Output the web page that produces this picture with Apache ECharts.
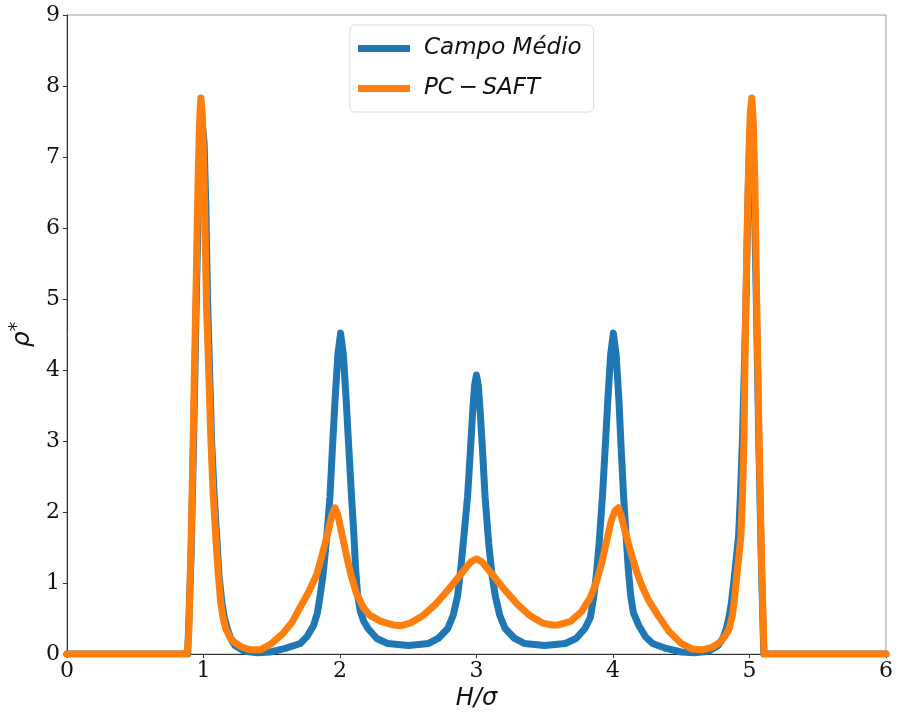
<!DOCTYPE html>
<html>
<head>
<meta charset="utf-8">
<script src="https://cdn.jsdelivr.net/npm/echarts@6/dist/echarts.min.js"></script>
<style>
  html, body { margin: 0; padding: 0; background: #fff; }
  #chart { width: 899px; height: 716px; }
</style>
</head>
<body>
<div id="chart"></div>
<script>
// Density profile rho* across the pore width H/sigma
const campoX = [0, 0.5, 0.885, 0.91, 0.928, 0.948, 0.965, 0.98, 0.993, 1.005, 1.018, 1.03, 1.045, 1.06, 1.08, 1.097, 1.115, 1.135, 1.155, 1.175, 1.2, 1.23, 1.3, 1.4, 1.49, 1.6, 1.709, 1.76, 1.806, 1.835, 1.855, 1.875, 1.89, 1.91, 1.927, 1.945, 1.965, 1.985, 2.005, 2.025, 2.045, 2.065, 2.085, 2.1, 2.115, 2.13, 2.15, 2.175, 2.206, 2.27, 2.35, 2.5, 2.65, 2.72, 2.79, 2.83, 2.862, 2.885, 2.91, 2.935, 2.955, 2.972, 2.986, 3.0, 3.014, 3.028, 3.045, 3.063, 3.09, 3.115, 3.138, 3.17, 3.21, 3.28, 3.35, 3.5, 3.65, 3.73, 3.795, 3.835, 3.86, 3.88, 3.9, 3.923, 3.943, 3.963, 3.983, 4.003, 4.023, 4.043, 4.06, 4.078, 4.095, 4.112, 4.13, 4.15, 4.19, 4.24, 4.29, 4.39, 4.5, 4.6, 4.7, 4.77, 4.805, 4.83, 4.85, 4.868, 4.89, 4.92, 4.935, 4.948, 4.962, 4.975, 4.988, 5.0, 5.008, 5.02, 5.035, 5.05, 5.068, 5.088, 5.105, 5.5, 6];
const campoY = [0, 0, 0, 1.4, 3.0, 5.0, 6.5, 7.25, 7.45, 7.2, 6.3, 5.0, 4.0, 3.0, 2.2, 1.66, 1.1, 0.73, 0.5, 0.36, 0.22, 0.12, 0.04, 0.02, 0.03, 0.08, 0.15, 0.25, 0.4, 0.58, 0.82, 1.1, 1.38, 1.8, 2.22, 2.9, 3.6, 4.22, 4.52, 4.22, 3.6, 2.9, 2.22, 1.75, 1.2, 0.82, 0.6, 0.46, 0.36, 0.22, 0.15, 0.12, 0.15, 0.22, 0.36, 0.55, 0.82, 1.2, 1.7, 2.22, 2.85, 3.4, 3.78, 3.93, 3.78, 3.4, 2.85, 2.22, 1.55, 1.1, 0.82, 0.55, 0.36, 0.22, 0.15, 0.12, 0.15, 0.22, 0.36, 0.52, 0.82, 1.15, 1.6, 2.22, 2.9, 3.6, 4.22, 4.52, 4.22, 3.6, 2.9, 2.22, 1.7, 1.2, 0.82, 0.58, 0.4, 0.24, 0.15, 0.08, 0.03, 0.02, 0.04, 0.12, 0.22, 0.36, 0.52, 0.73, 1.1, 1.66, 2.3, 3.0, 4.0, 5.0, 6.3, 7.2, 7.45, 7.25, 6.5, 5.0, 3.0, 1.2, 0, 0, 0];

const saftX = [0, 0.5, 0.88, 0.893, 0.91, 0.925, 0.944, 0.96, 0.972, 0.981, 0.992, 1.005, 1.022, 1.04, 1.054, 1.07, 1.09, 1.108, 1.126, 1.145, 1.163, 1.19, 1.223, 1.28, 1.345, 1.418, 1.5, 1.587, 1.65, 1.709, 1.77, 1.83, 1.867, 1.91, 1.94, 1.964, 1.985, 2.02, 2.05, 2.08, 2.12, 2.17, 2.22, 2.3, 2.39, 2.45, 2.52, 2.61, 2.7, 2.8, 2.9, 2.96, 3.0, 3.04, 3.1, 3.2, 3.3, 3.39, 3.48, 3.55, 3.6, 3.69, 3.77, 3.83, 3.88, 3.92, 3.955, 3.985, 4.015, 4.04, 4.06, 4.09, 4.133, 4.17, 4.21, 4.26, 4.33, 4.41, 4.5, 4.58, 4.65, 4.72, 4.78, 4.82, 4.852, 4.875, 4.888, 4.91, 4.937, 4.95, 4.96, 4.973, 4.99, 5.005, 5.017, 5.028, 5.04, 5.053, 5.07, 5.09, 5.107, 5.5, 6];
const saftY = [0, 0, 0, 0.3, 1.6, 3.06, 4.95, 6.6, 7.5, 7.83, 7.6, 6.7, 4.95, 3.9, 3.06, 2.3, 1.66, 1.15, 0.73, 0.5, 0.36, 0.25, 0.17, 0.1, 0.06, 0.06, 0.15, 0.3, 0.45, 0.66, 0.87, 1.12, 1.38, 1.7, 1.95, 2.06, 1.96, 1.64, 1.37, 1.12, 0.86, 0.66, 0.545, 0.46, 0.41, 0.4, 0.44, 0.545, 0.7, 0.92, 1.16, 1.3, 1.34, 1.3, 1.16, 0.92, 0.7, 0.545, 0.44, 0.41, 0.41, 0.46, 0.6, 0.78, 1.02, 1.3, 1.6, 1.86, 2.02, 2.06, 1.95, 1.72, 1.42, 1.18, 0.97, 0.76, 0.545, 0.32, 0.15, 0.07, 0.06, 0.09, 0.16, 0.25, 0.36, 0.55, 0.73, 1.15, 1.66, 2.3, 3.06, 4.95, 6.6, 7.6, 7.83, 7.5, 6.6, 4.95, 3.06, 1.2, 0, 0, 0];

const xTicks = [0, 1, 2, 3, 4, 5, 6];
const yTicks = [0, 1, 2, 3, 4, 5, 6, 7, 8, 9];

const seriesNames = ['Campo Médio', 'PC\u2009\u2212\u2009SAFT'];
const seriesColors = ['#1f77b4', '#ff7f0e'];

function pairs(xs, ys) {
  return xs.map((x, i) => [x, ys[i]]);
}

const chart = echarts.init(document.getElementById('chart'), null, { renderer: 'canvas' });

const tickFont = { fontFamily: 'DejaVu Serif', fontSize: 22, color: '#111' };

chart.setOption({
  animation: false,
  backgroundColor: '#fff',
  grid: {
    left: 62, right: 13, top: 15, bottom: 57,
    show: true, borderColor: '#9a9a9a', borderWidth: 1, backgroundColor: 'transparent'
  },
  legend: {
    left: 350, top: 25,
    orient: 'vertical',
    itemWidth: 52, itemHeight: 7, itemGap: 17,
    icon: 'rect',
    padding: [12, 12, 12, 8],
    backgroundColor: '#fff',
    borderColor: '#dcdcdc', borderWidth: 1, borderRadius: 5,
    textStyle: { fontFamily: 'DejaVu Sans', fontStyle: 'italic', fontSize: 23, color: '#111', padding: [0, 0, 0, 9] },
    data: seriesNames
  },
  xAxis: {
    type: 'value', min: xTicks[0], max: xTicks[xTicks.length - 1], interval: 1,
    name: 'H/σ', nameLocation: 'middle', nameGap: 29,
    nameTextStyle: { fontFamily: 'DejaVu Sans', fontStyle: 'italic', fontSize: 24, color: '#111' },
    axisLine: { show: true, lineStyle: { color: '#333', width: 1 } },
    axisTick: { show: true, length: 4, lineStyle: { color: '#333' } },
    axisLabel: Object.assign({ margin: 6 }, tickFont),
    splitLine: { show: false }
  },
  yAxis: {
    type: 'value', min: yTicks[0], max: yTicks[yTicks.length - 1], interval: 1,
    name: '{b|ρ}{s|*}', nameLocation: 'middle', nameGap: 24, nameRotate: 90,
    nameTextStyle: {
      rich: {
        b: { fontFamily: 'DejaVu Sans', fontStyle: 'italic', fontSize: 25, color: '#111' },
        s: { fontFamily: 'DejaVu Sans', fontSize: 19, color: '#111', verticalAlign: 'top', padding: [0, 0, 10, 0] }
      }
    },
    axisLine: { show: true, lineStyle: { color: '#333', width: 1 } },
    axisTick: { show: true, length: 4, lineStyle: { color: '#333' } },
    axisLabel: Object.assign({ margin: 7 }, tickFont),
    splitLine: { show: false }
  },
  series: [
    {
      name: seriesNames[0], type: 'line', data: pairs(campoX, campoY),
      showSymbol: false, symbol: 'none', smooth: false,
      color: seriesColors[0],
      lineStyle: { width: 7, color: seriesColors[0], cap: 'round', join: 'round' },
      z: 2
    },
    {
      name: seriesNames[1], type: 'line', data: pairs(saftX, saftY),
      showSymbol: false, symbol: 'none', smooth: false,
      color: seriesColors[1],
      lineStyle: { width: 7, color: seriesColors[1], cap: 'round', join: 'round' },
      z: 3
    }
  ]
});
</script>
</body>
</html>
